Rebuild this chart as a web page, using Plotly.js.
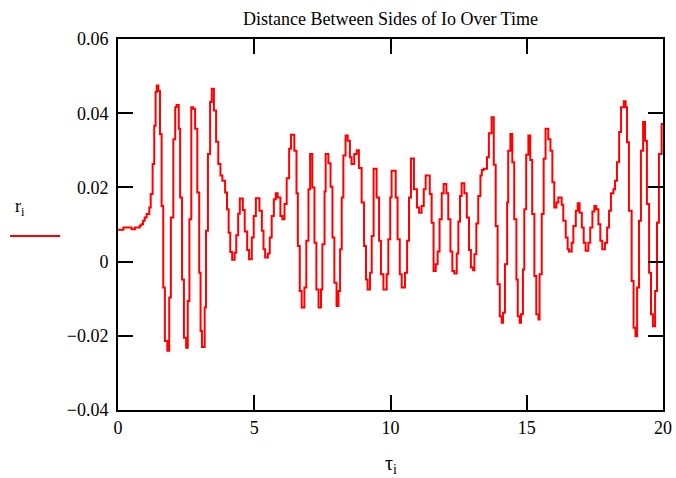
<!DOCTYPE html>
<html>
<head>
<meta charset="utf-8">
<script src="https://cdn.plot.ly/plotly-3.0.1.min.js"></script>
<style>html,body{margin:0;padding:0;background:#fff;}#chart{width:676px;height:478px;}</style>
</head>
<body>
<div id="chart"></div>
<script>
// Step positions (tau) and values (r)
const tau = [0.00,0.20,0.50,0.62,0.80,0.86,0.92,0.98,1.05,1.15,1.20,1.27,1.33,1.38,1.42,1.48,1.54,1.60,1.66,1.72,1.81,1.88,1.94,2.03,2.10,2.15,2.23,2.28,2.35,2.42,2.50,2.56,2.62,2.69,2.76,2.83,2.91,2.98,3.03,3.08,3.18,3.23,3.30,3.38,3.44,3.52,3.60,3.68,3.76,3.83,3.93,
4.00,4.06,4.12,4.19,4.28,4.34,4.41,4.47,4.58,4.65,4.74,4.81,4.91,4.98,5.06,5.19,5.28,5.34,5.40,5.50,5.57,5.64,5.72,5.79,5.86,5.96,6.03,6.11,6.19,6.28,6.35,6.47,6.55,6.60,6.67,6.74,6.84,6.91,6.99,7.05,7.13,7.21,7.28,7.36,7.45,7.50,7.58,7.62,7.72,7.80,7.87,7.94,
8.02,8.09,8.15,8.21,8.27,8.35,8.43,8.51,8.57,8.67,8.76,8.84,8.94,9.03,9.10,9.16,9.25,9.31,9.38,9.49,9.58,9.65,9.74,9.86,9.92,9.99,10.04,10.19,10.26,10.34,10.41,10.53,10.61,10.68,10.75,10.86,10.97,11.05,11.14,11.22,11.29,11.44,11.51,11.58,11.66,11.73,11.80,11.88,11.95,
12.05,12.12,12.20,12.27,12.34,12.43,12.49,12.55,12.61,12.71,12.80,12.88,12.95,13.03,13.08,13.15,13.22,13.30,13.35,13.42,13.54,13.61,13.71,13.79,13.86,13.93,14.01,14.08,14.13,14.20,14.28,14.32,14.40,14.47,14.54,14.62,14.67,14.74,14.79,14.86,14.91,14.98,15.06,15.13,15.20,15.28,15.35,15.43,15.47,15.55,15.62,15.69,15.79,15.87,15.94,
16.01,16.09,16.16,16.28,16.34,16.43,16.50,16.55,16.65,16.71,16.80,16.87,16.94,17.02,17.09,17.16,17.26,17.33,17.41,17.48,17.55,17.63,17.70,17.77,17.87,17.95,18.02,18.09,18.18,18.24,18.31,18.39,18.46,18.56,18.63,18.68,18.75,18.85,18.92,18.99,19.05,19.12,19.19,19.27,19.34,19.41,19.49,19.56,19.63,19.71,19.78,19.85,19.95,20.00];

const r = [0.0086,0.0092,0.0087,0.0092,0.0097,0.0101,0.0110,0.0119,0.0128,0.0146,0.0182,0.0263,0.0366,0.0457,0.0475,0.0460,0.0344,0.0150,-0.0070,-0.0214,-0.0240,-0.0097,0.0119,0.0330,0.0416,0.0422,0.0358,0.0173,-0.0048,-0.0205,-0.0232,-0.0106,0.0114,0.0416,0.0412,0.0358,0.0186,-0.0030,-0.0187,-0.0230,-0.0124,0.0083,0.0290,0.0430,0.0466,0.0407,0.0323,0.0263,0.0232,0.0218,0.0186,
0.0141,0.0078,0.0026,0.0005,0.0024,0.0071,0.0129,0.0170,0.0139,0.0081,0.0031,0.0006,0.0065,0.0123,0.0171,0.0137,0.0083,0.0033,0.0011,0.0022,0.0065,0.0123,0.0168,0.0184,0.0173,0.0123,0.0114,0.0155,0.0225,0.0304,0.0342,0.0299,0.0184,0.0042,-0.0079,-0.0124,-0.0070,0.0056,0.0195,0.0290,0.0200,0.0051,-0.0075,-0.0124,-0.0075,0.0047,0.0189,0.0290,0.0265,0.0202,0.0065,-0.0057,
-0.0120,-0.0079,0.0033,0.0173,0.0286,0.0340,0.0326,0.0281,0.0263,0.0290,0.0300,0.0252,0.0159,0.0042,-0.0048,-0.0075,-0.0030,0.0069,0.0250,0.0173,0.0056,-0.0034,-0.0075,-0.0034,0.0060,0.0173,0.0245,0.0173,0.0060,-0.0034,-0.0070,-0.0030,0.0056,0.0173,0.0278,0.0195,0.0146,0.0132,0.0150,0.0195,0.0232,0.0182,0.0105,-0.0025,-0.0007,0.0027,0.0114,0.0184,0.0209,
0.0184,0.0114,0.0027,-0.0025,-0.0032,0.0022,0.0108,0.0177,0.0211,0.0184,0.0119,0.0031,-0.0016,-0.0023,0.0020,0.0103,0.0177,0.0232,0.0247,0.0250,0.0281,0.0346,0.0389,0.0261,0.0096,-0.0061,-0.0147,-0.0165,-0.0138,-0.0007,0.0159,0.0299,0.0344,0.0268,0.0114,-0.0048,-0.0147,-0.0165,-0.0142,-0.0021,0.0141,0.0288,0.0340,0.0274,0.0128,-0.0039,-0.0142,-0.0156,-0.0034,0.0128,0.0277,0.0358,0.0330,0.0299,0.0214,
0.0146,0.0159,0.0173,0.0153,0.0110,0.0065,0.0033,0.0027,0.0051,0.0096,0.0137,0.0157,0.0132,0.0092,0.0051,0.0029,0.0051,0.0092,0.0135,0.0150,0.0141,0.0101,0.0056,0.0033,0.0051,0.0092,0.0137,0.0184,0.0195,0.0218,0.0268,0.0349,0.0416,0.0432,0.0416,0.0322,0.0137,-0.0052,-0.0178,-0.0201,-0.0070,0.0110,0.0299,0.0376,0.0326,0.0155,-0.0030,-0.0142,-0.0174,-0.0079,0.0105,0.0290,0.0371,0.0371];

const xTicks = [0, 5, 10, 15, 20];
const xTickText = ['0', '5', '10', '15', '20'];
const yTicks = [-0.04, -0.02, 0, 0.02, 0.04, 0.06];
const yTickText = ['\u22120.04', '\u22120.02', '0', '0.02', '0.04', '0.06'];

const serif = 'Liberation Serif';

const trace = {
  x: tau, y: r, type: 'scatter', mode: 'lines',
  line: {color: '#ff0000', width: 2, shape: 'hv'},
  hoverinfo: 'skip', showlegend: false
};

function axis(extra) {
  return Object.assign({
    showline: true, linecolor: '#000', linewidth: 2,
    mirror: 'ticks', ticks: 'inside', ticklen: 15, tickwidth: 2, tickcolor: '#000',
    showgrid: false, zeroline: false,
    tickfont: {family: serif, size: 18, color: '#000'}
  }, extra);
}

const layout = {
  width: 676, height: 478,
  margin: {l: 118, r: 13, t: 39, b: 68},
  paper_bgcolor: '#fff', plot_bgcolor: '#fff',
  font: {family: serif, color: '#000'},
  title: {text: 'Distance Between Sides of Io Over Time', font: {family: serif, size: 18, color: '#000'},
          xref: 'paper', x: 0.5, xanchor: 'center', yref: 'container', y: 0.96, yanchor: 'middle'},
  xaxis: axis({range: [0, 20], tickmode: 'array', tickvals: xTicks, ticktext: xTickText}),
  yaxis: axis({range: [-0.04, 0.06], tickmode: 'array', tickvals: yTicks, ticktext: yTickText, ticklabelstandoff: 4}),
  annotations: [
    {text: 'τ<sub>i</sub>', xref: 'paper', yref: 'paper', x: 0.5, y: -0.148, xanchor: 'center', yanchor: 'middle',
     showarrow: false, font: {family: serif, size: 20, color: '#000'}},
    {text: 'r<sub>i</sub>', xref: 'paper', yref: 'paper', x: -0.18, y: 0.545, xanchor: 'center', yanchor: 'middle',
     showarrow: false, font: {family: serif, size: 18, color: '#000'}}
  ],
  shapes: [
    {type: 'line', xref: 'paper', yref: 'paper', x0: -0.198, x1: -0.106, y0: 0.469, y1: 0.469,
     line: {color: '#ff0000', width: 2}}
  ]
};

Plotly.newPlot('chart', [trace], layout, {displayModeBar: false, staticPlot: true}).then(function (gd) {
  // make sure tick labels use the serif face
  gd.querySelectorAll('.xtick text, .ytick text').forEach(function (t) {
    t.style.fontFamily = "'Liberation Serif', serif";
  });
});
</script>
</body>
</html>
